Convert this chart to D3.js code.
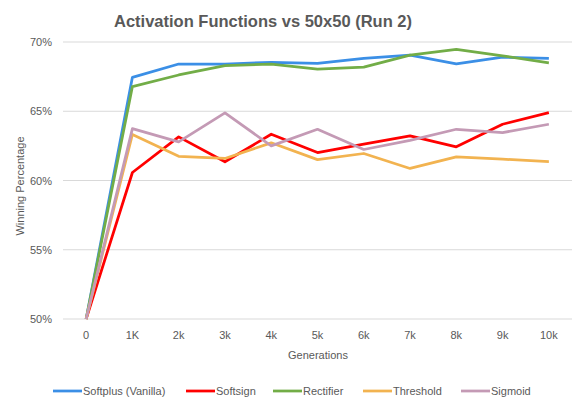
<!DOCTYPE html>
<head>
  <meta charset="utf-8">
  <style>
    body { margin: 0; background: #fff; }
    text { font-family: "Liberation Sans", Arial, sans-serif; fill: #595959; }
  </style>
</head>
<body>
<script src="https://cdnjs.cloudflare.com/ajax/libs/d3/7.8.5/d3.min.js"></script>
<script>

var generations = ["0", "1K", "2k", "3k", "4k", "5k", "6k", "7k", "8k", "9k", "10k"];
var yTicks = [50, 55, 60, 65, 70];

var softplus  = [50, 67.45, 68.41, 68.41, 68.53, 68.46, 68.82, 69.05, 68.42, 68.9, 68.82];
var softsign  = [50, 60.58, 63.15, 61.35, 63.34, 62.02, 62.62, 63.22, 62.43, 64.06, 64.9];
var rectifier = [50, 66.78, 67.62, 68.3, 68.41, 68.04, 68.19, 69.05, 69.47, 69.0, 68.5];
var threshold = [50, 63.32, 61.75, 61.59, 62.72, 61.51, 61.95, 60.87, 61.7, 61.54, 61.37];
var sigmoid   = [50, 63.75, 62.79, 64.88, 62.5, 63.7, 62.24, 62.9, 63.7, 63.46, 64.06];

var series = [
  { name: "Softplus (Vanilla)", values: softplus,  color: "#3b8fe6" },
  { name: "Softsign",           values: softsign,  color: "#ff0000" },
  { name: "Rectifier",          values: rectifier, color: "#72ad47" },
  { name: "Threshold",          values: threshold, color: "#f2b350" },
  { name: "Sigmoid",            values: sigmoid,   color: "#c49ab5" }
];

var W = 579, H = 408;
var margin = { top: 42, right: 7, bottom: 89, left: 63 };
var width = W - margin.left - margin.right;
var height = H - margin.top - margin.bottom;

var svg = d3.select("body").append("svg")
    .attr("width", W)
    .attr("height", H);

var g = svg.append("g")
    .attr("transform", "translate(" + margin.left + "," + margin.top + ")");

var x = d3.scaleBand()
    .domain(generations)
    .range([0, width]);

var y = d3.scaleLinear()
    .domain([50, 70])
    .range([height, 0]);

// gridlines
g.selectAll(".grid")
    .data(yTicks)
    .enter()
    .append("line")
    .attr("x1", 0)
    .attr("x2", width)
    .attr("y1", function(d) { return y(d); })
    .attr("y2", function(d) { return y(d); })
    .attr("stroke", "#d9d9d9")
    .attr("stroke-width", 1);

var yAxis = g.append("g")
    .call(d3.axisLeft(y).tickValues(yTicks).tickSize(0).tickPadding(11)
      .tickFormat(function(d) { return d + "%"; }));
yAxis.select(".domain").remove();
yAxis.selectAll("text")
    .style("font-size", "11px")
    .attr("fill", "#595959");

var xAxis = g.append("g")
    .attr("transform", "translate(0," + height + ")")
    .call(d3.axisBottom(x).tickSize(0).tickPadding(12));
xAxis.select(".domain").remove();
xAxis.selectAll("text")
    .style("font-size", "11px")
    .attr("fill", "#595959");

var line = d3.line()
    .x(function(d, i) { return x(generations[i]) + x.bandwidth() / 2; })
    .y(function(d) { return y(d); });

g.selectAll(".series")
    .data(series)
    .enter()
    .append("path")
    .attr("d", function(d) { return line(d.values); })
    .attr("fill", "none")
    .attr("stroke", function(d) { return d.color; })
    .attr("stroke-width", 2.75)
    .attr("stroke-linejoin", "round");

// titles
svg.append("text")
    .attr("x", 263)
    .attr("y", 27)
    .attr("text-anchor", "middle")
    .style("font-size", "16.5px")
    .style("font-weight", "bold")
    .text("Activation Functions vs 50x50 (Run 2)");

svg.append("text")
    .attr("transform", "translate(24,186) rotate(-90)")
    .attr("text-anchor", "middle")
    .style("font-size", "11px")
    .text("Winning Percentage");

svg.append("text")
    .attr("x", 318)
    .attr("y", 359)
    .attr("text-anchor", "middle")
    .style("font-size", "11px")
    .text("Generations");

// legend
var legendX = [53, 186, 273, 363, 461];
var legend = svg.selectAll(".legend")
    .data(series)
    .enter()
    .append("g")
    .attr("transform", function(d, i) { return "translate(" + legendX[i] + ",391)"; });

legend.append("line")
    .attr("x1", 0)
    .attr("x2", 29)
    .attr("stroke", function(d) { return d.color; })
    .attr("stroke-width", 2.75);

legend.append("text")
    .attr("x", 30)
    .attr("dy", "0.35em")
    .style("font-size", "11px")
    .text(function(d) { return d.name; });

</script>
</body>
